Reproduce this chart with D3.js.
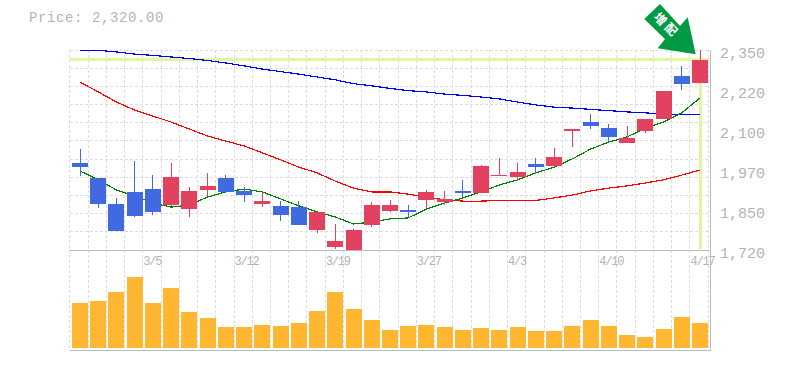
<!DOCTYPE html>
<html>
<head>
<meta charset="utf-8">
<style>
  html, body { margin: 0; padding: 0; background: #fff; }
  svg { display: block; }
  text { font-family: "Liberation Mono", monospace; fill: #b4b4b4; }
</style>
<script src="https://cdn.jsdelivr.net/npm/d3@7"></script>
</head>
<body>
<svg id="chart" width="785" height="370"></svg>
<script>
const dates = ["2/27","2/28","3/1","3/2","3/5","3/6","3/7","3/8","3/9","3/12","3/13","3/14","3/15","3/16","3/19","3/20","3/22","3/23","3/26","3/27","3/28","3/29","3/30","4/2","4/3","4/4","4/5","4/6","4/9","4/10","4/11","4/12","4/13","4/16","4/17"];
const dateLabels = ["3/5","3/12","3/19","3/27","4/3","4/10","4/17"];

const opens  = [1995,1948,1866,1903,1912,1862,1850,1910,1947,1906,1866,1859,1855,1784,1729,1720,1800,1843,1847,1878,1871,1906,1900,1953,1950,1991,1985,2095,2123,2104,2057,2095,2133,2268,2246];
const highs  = [2038,1948,1883,2000,1956,1994,1918,1963,1956,1918,1906,1874,1874,1840,1802,1787,1871,1878,1862,1909,1906,1941,1988,2010,1994,2010,2041,2101,2148,2117,2111,2133,2221,2300,2350];
const lows   = [1954,1853,1781,1825,1831,1859,1825,1890,1900,1872,1856,1812,1800,1775,1724,1720,1792,1840,1820,1852,1862,1887,1900,1953,1937,1959,1981,2044,2102,2060,2057,2089,2133,2224,2246];
const closes = [1982,1866,1781,1828,1841,1950,1906,1922,1903,1894,1874,1831,1800,1840,1748,1783,1862,1862,1840,1903,1881,1900,1985,1956,1966,1981,2013,2101,2111,2076,2073,2133,2221,2243,2320];

const ma5  = [1969,1941,1909,1890,1868,1855,1862,1887,1903,1912,1903,1881,1859,1840,1824,1802,1808,1818,1821,1849,1868,1884,1903,1925,1941,1963,1981,2007,2038,2060,2076,2104,2123,2152,2199];
const ma25 = [2249,2218,2186,2161,2142,2123,2101,2079,2063,2048,2026,2004,1981,1963,1937,1915,1903,1903,1896,1887,1878,1874,1874,1876,1876,1876,1884,1893,1906,1915,1922,1931,1941,1956,1972];
const ma75 = [2349,2349,2344,2337,2333,2328,2323,2317,2309,2300,2290,2282,2274,2265,2256,2244,2237,2229,2222,2218,2211,2207,2202,2196,2186,2177,2170,2167,2163,2159,2155,2152,2148,2148,2148];

const volumes = [134,140,167,212,134,179,107,89,62,62,68,65,74,110,167,116,83,53,65,68,62,53,59,53,62,50,50,65,83,65,38,32,56,92,74];

const priceTicks = [2350,2224,2098,1972,1846,1720];
const lastPrice = 2320;

const svg = d3.select("#chart");
const bodyW = 16;
const x = d3.scalePoint().domain(dates).range([80, 700]);
const step = x.step();
const y = d3.scaleLinear().domain([1720, 2350]).range([250, 50]);
const yVol = d3.scaleLinear().domain([0, 300]).range([348, 248]);
const left = 70, right = 710, top_ = 50, mid = 250, bottom = 350;
// grid sits just left of each candle slot
const slotOffset = step / 2 + 1;

// grid
const grid = svg.append("g")
	.attr("stroke", "#ddd")
	.attr("stroke-dasharray", "3,2")
	.attr("shape-rendering", "crispEdges");
d3.range(12).forEach(i => {
	const gy = top_ + i * (mid - top_) / 11;
	grid.append("line").attr("x1", left).attr("x2", right).attr("y1", gy).attr("y2", gy);
});
d3.range(dates.length + 1).forEach(i => {
	const gx = 80 + step * i - slotOffset;
	grid.append("line").attr("x1", gx).attr("x2", gx).attr("y1", top_).attr("y2", bottom);
});

// current price guide
svg.append("line")
	.attr("x1", left).attr("x2", right)
	.attr("y1", y(lastPrice)).attr("y2", y(lastPrice))
	.attr("stroke", "#e2f5a0").attr("stroke-width", 3);
svg.append("line")
	.attr("x1", x("4/17") + 0.5).attr("x2", x("4/17") + 0.5)
	.attr("y1", y(lastPrice)).attr("y2", 249)
	.attr("stroke", "#e2f5a0").attr("stroke-width", 3);

// frame
const frame = svg.append("g").attr("stroke", "#bbb").attr("shape-rendering", "crispEdges");
frame.append("line").attr("x1", left).attr("x2", right + 1).attr("y1", mid).attr("y2", mid);
frame.append("line").attr("x1", left).attr("x2", right + 1).attr("y1", bottom).attr("y2", bottom);
frame.append("line").attr("x1", right).attr("x2", right).attr("y1", top_).attr("y2", bottom);

// moving averages
const line = d3.line().x((d, i) => x(dates[i])).y(d => y(d));
[[ma75, "#0000ff"], [ma25, "#ff0000"], [ma5, "#008000"]].forEach(([s, c]) => {
	svg.append("path").attr("d", line(s)).attr("fill", "none")
		.attr("stroke", c).attr("stroke-width", 1.2)
		.attr("shape-rendering", "crispEdges");
});

// candles
const candles = svg.append("g").selectAll("g").data(dates).enter().append("g")
	.attr("shape-rendering", "crispEdges");
const candleColor = i => closes[i] >= opens[i] ? "#e2425f" : "#4169e1";
candles.append("line")
	.attr("x1", d => x(d)).attr("x2", d => x(d))
	.attr("y1", (d, i) => y(highs[i])).attr("y2", (d, i) => y(lows[i]))
	.attr("stroke", (d, i) => candleColor(i));
candles.append("rect")
	.attr("x", d => x(d) - bodyW / 2)
	.attr("width", bodyW)
	.attr("y", (d, i) => y(Math.max(opens[i], closes[i])))
	.attr("height", (d, i) => Math.max(1, Math.abs(y(opens[i]) - y(closes[i]))))
	.attr("fill", (d, i) => candleColor(i));

// volume
svg.append("g").selectAll("rect").data(volumes).enter().append("rect")
	.attr("x", (d, i) => x(dates[i]) - bodyW / 2)
	.attr("width", bodyW)
	.attr("y", d => yVol(d))
	.attr("height", d => yVol(0) - yVol(d))
	.attr("fill", "#ffb732")
	.attr("shape-rendering", "crispEdges");

// axes
const yAxis = svg.append("g")
	.attr("transform", `translate(${right},0)`)
	.call(d3.axisRight(y).tickValues(priceTicks).tickSize(0).tickPadding(10)
		.tickFormat(d => d3.format(",")(Math.round(d / 10) * 10)));
yAxis.select(".domain").remove();
yAxis.selectAll("text").attr("dy", "0.47em").attr("font-size", 15)
	.style("font-family", '"Liberation Mono", monospace').style("fill", "#b4b4b4");

// date labels start at the left edge of their candle slot
const xAxis = svg.append("g")
	.attr("transform", `translate(0,${mid})`)
	.call(d3.axisBottom(x).tickValues(dateLabels).tickSize(0));
xAxis.select(".domain").remove();
xAxis.selectAll("text").attr("font-size", 12)
	.attr("letter-spacing", -1.2)
	.attr("text-anchor", "start")
	.attr("x", -slotOffset)
	.attr("y", 15).attr("dy", 0)
	.style("font-family", '"Liberation Mono", monospace').style("fill", "#b4b4b4");

// title
svg.append("text")
	.attr("x", 29).attr("y", 22)
	.attr("font-size", 14)
	.attr("letter-spacing", 0.6)
	.text("Price: " + d3.format(",.2f")(lastPrice));

// arrow badge
svg.append("path")
	.attr("d", "M660,4 L644.3,19 L665,39 L657.7,48.3 L695.7,54.3 L687.7,17.3 L680,26 Z")
	.attr("fill", "#009944");
svg.append("text")
	.attr("transform", "translate(666,26) rotate(45)")
	.attr("text-anchor", "middle")
	.attr("dominant-baseline", "middle")
	.attr("letter-spacing", 3)
	.style("font-family", '"Noto Sans CJK JP", sans-serif')
	.style("fill", "#fff")
	.attr("font-size", 12)
	.attr("font-weight", 700)
	.text("増配");
</script>
</body>
</html>
